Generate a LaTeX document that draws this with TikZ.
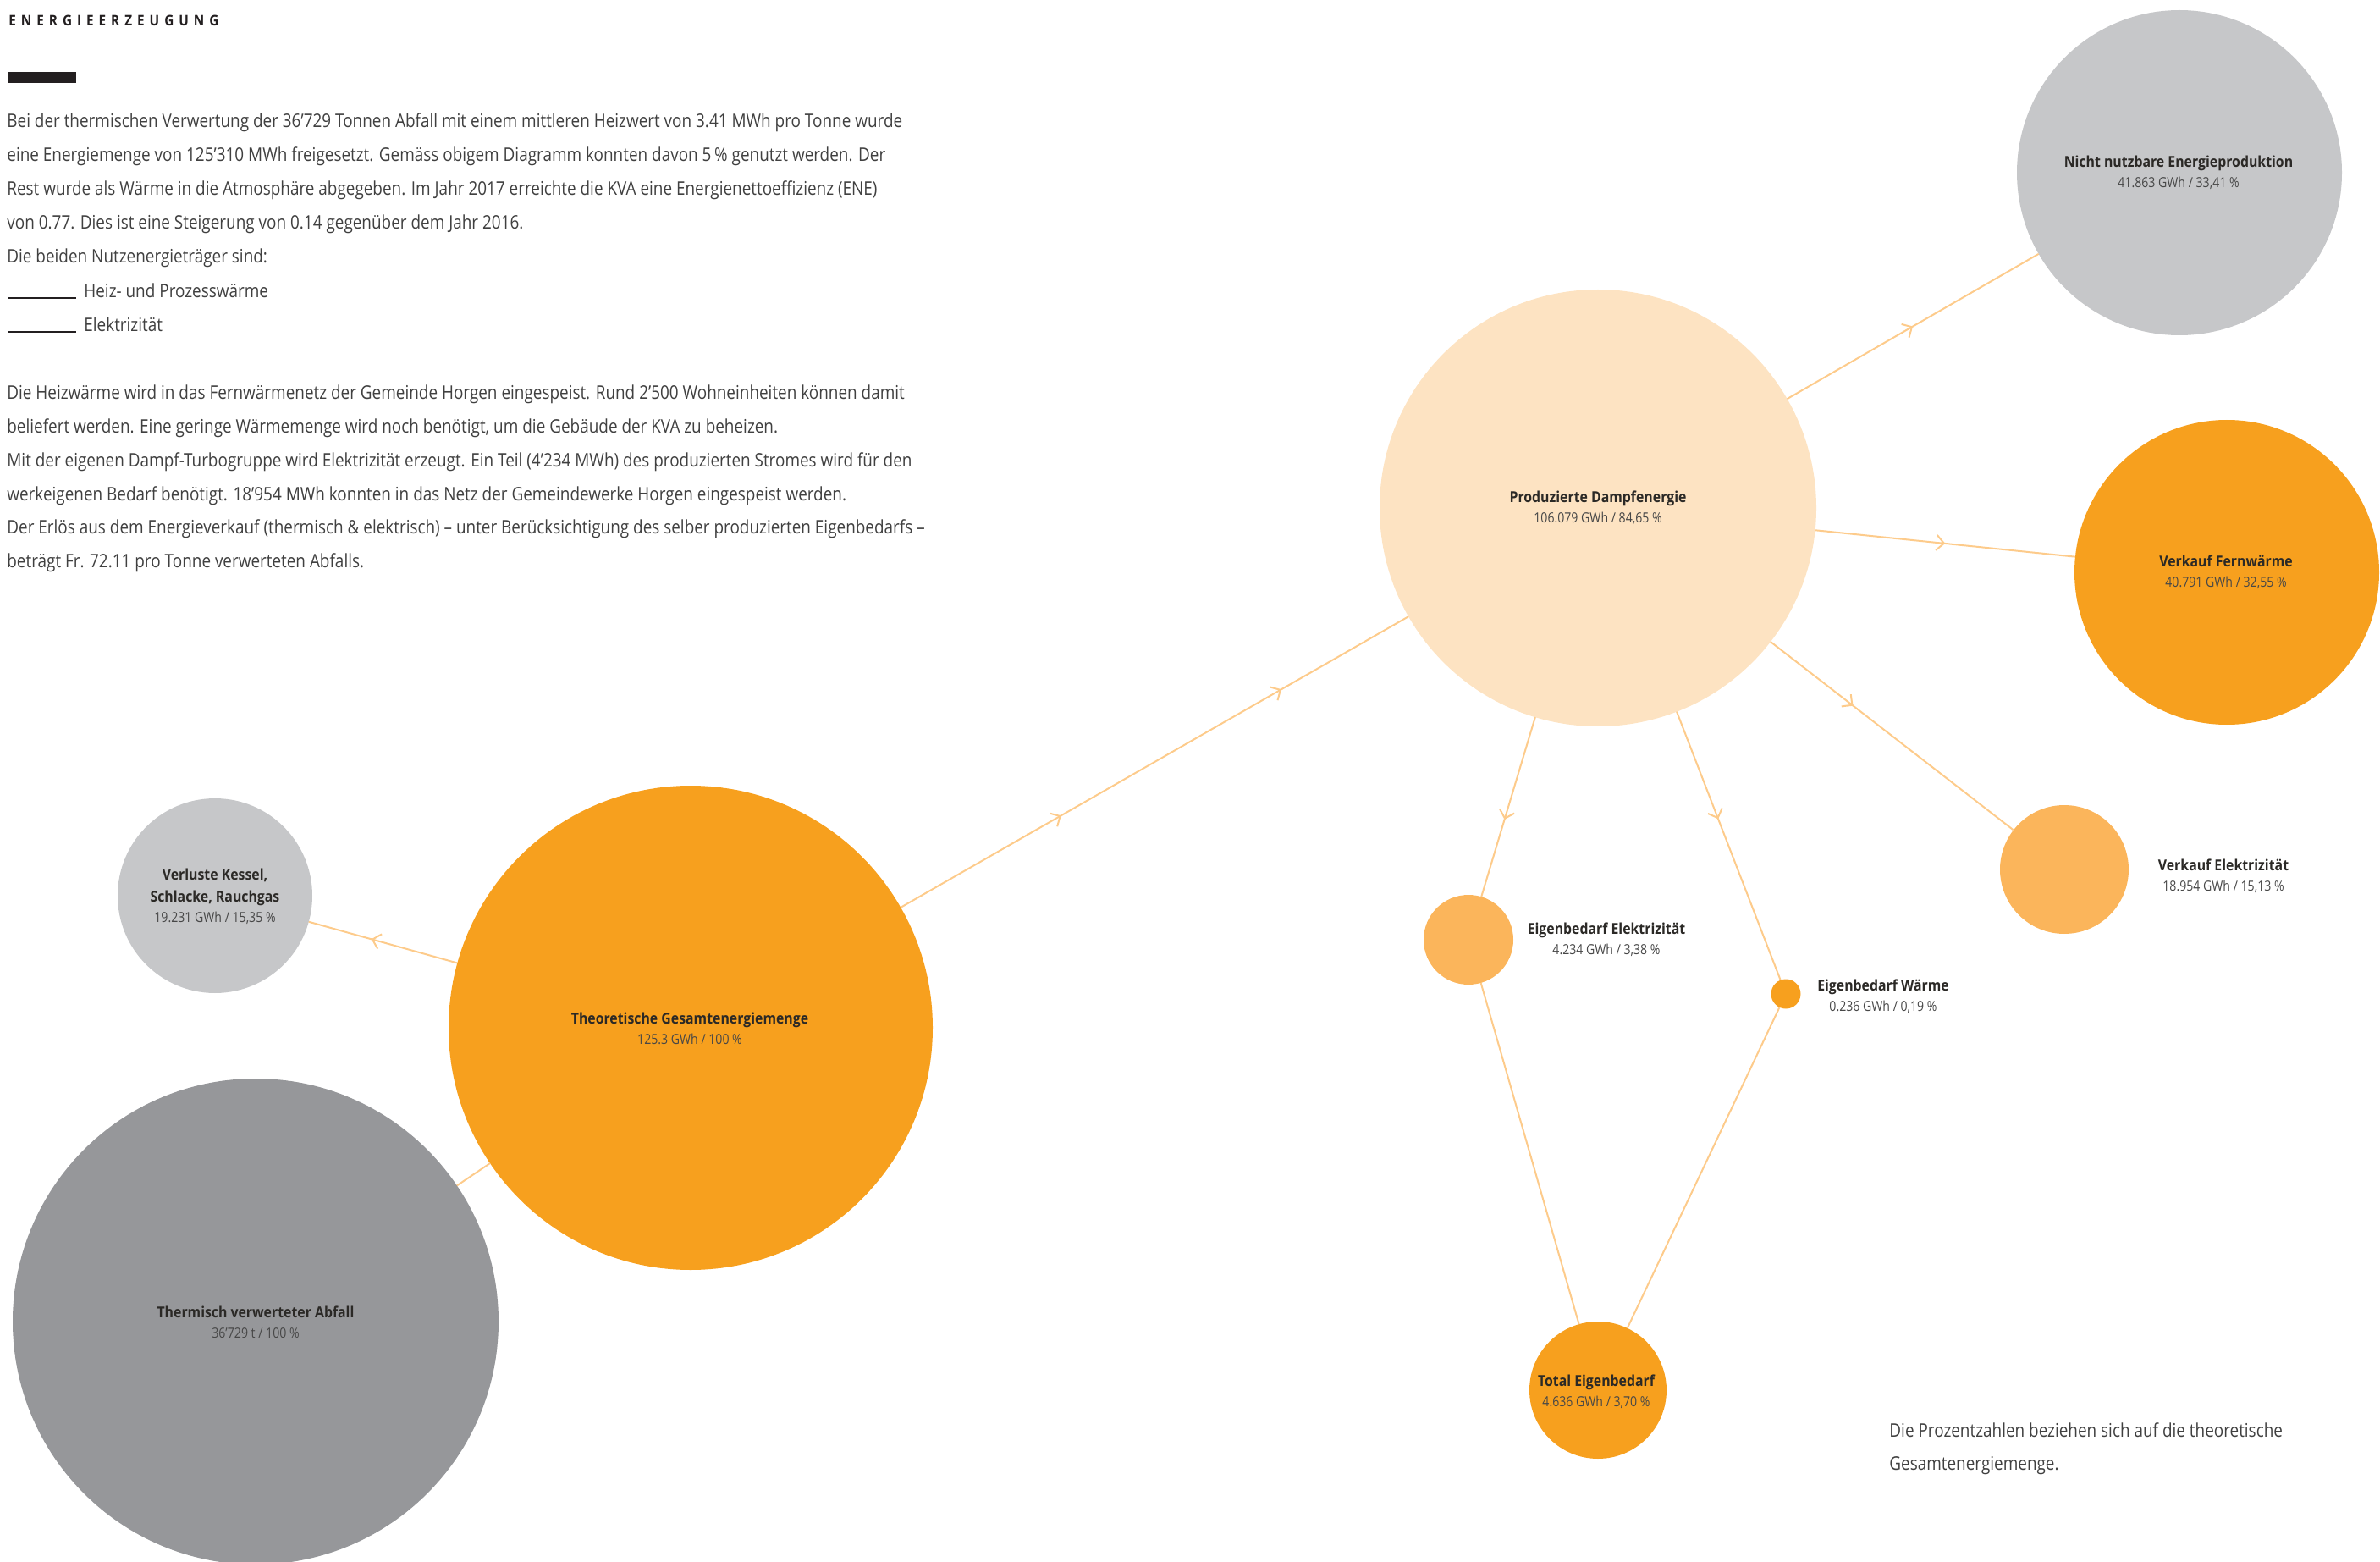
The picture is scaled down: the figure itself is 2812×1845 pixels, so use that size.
\documentclass[tikz,border=0pt]{standalone}
\usepackage{fontspec}
\setmainfont{Open Sans}
\newfontfamily\bodyfont{Open Sans}[FakeStretch=0.86]
\newfontfamily\labfont{Open Sans}[FakeStretch=0.89]
\usetikzlibrary{arrows.meta,decorations.markings}
\definecolor{orangeA}{HTML}{F7A01E}
\definecolor{orangeB}{HTML}{FBB55B}
\definecolor{orangeP}{HTML}{FDE3C2}
\definecolor{grayL}{HTML}{C6C7C9}
\definecolor{grayM}{HTML}{96979A}
\definecolor{flowc}{HTML}{FDCB8B}
\definecolor{bodyc}{HTML}{404040}
\definecolor{headc}{HTML}{2B2926}
\definecolor{valc}{HTML}{474747}
\definecolor{barc}{HTML}{231F20}
\newcommand\flowarrow{\arrow[color=flowc,line width=1pt]{Straight Barb[length=4.5pt,width=9pt]}}
\begin{document}
\begin{tikzpicture}[x=0.5pt,y=-0.5pt,
  bubble/.style={circle,draw=none,inner sep=0pt,outer sep=0pt},
  flow/.style={draw=flowc,line width=1pt},
  arrowat/.style={postaction={decorate},decoration={markings,mark=at position #1 with {\flowarrow}}},
  twoarrows/.style 2 args={postaction={decorate},decoration={markings,mark=at position #1 with {\flowarrow},mark=at position #2 with {\flowarrow}}},
  txt/.style={inner sep=0pt,anchor=base west,text=bodyc,font=\bodyfont\fontsize{11pt}{13pt}\selectfont},
  head/.style={inner sep=0pt,anchor=base,text=headc,font=\labfont\bfseries\fontsize{8.9pt}{10pt}\selectfont},
  val/.style={inner sep=0pt,anchor=base,text=valc,font=\bodyfont\fontsize{8.2pt}{10pt}\selectfont}]
\useasboundingbox (0,0) rectangle (2812,1845);

% ---------- left text column ----------
\node[inner sep=0pt,anchor=base west,text=barc,font=\labfont\bfseries\fontsize{8.6pt}{10pt}\selectfont] (title) at (10,31)
  {\makebox[124pt][s]{E\hfill N\hfill E\hfill R\hfill G\hfill I\hfill E\hfill E\hfill R\hfill Z\hfill E\hfill U\hfill G\hfill U\hfill N\hfill G}};
\fill[barc] (9,85) rectangle (90,98);

\node[txt] (p1) at (8,151) {Bei der thermischen Verwertung der 36’729 Tonnen Abfall mit einem mittleren Heizwert von 3.41 MWh pro Tonne wurde};
\node[txt] (p2) at (8,191) {eine Energiemenge von 125’310 MWh freigesetzt. Gemäss obigem Diagramm konnten davon 5\,\% genutzt werden. Der};
\node[txt] (p3) at (8,231) {Rest wurde als Wärme in die Atmosphäre abgegeben. Im Jahr 2017 erreichte die KVA eine Energienettoeffizienz (ENE)};
\node[txt] (p4) at (8,271) {von 0.77. Dies ist eine Steigerung von 0.14 gegenüber dem Jahr 2016.};
\node[txt] (p5) at (8,311) {Die beiden Nutzenergieträger sind:};
\draw[barc,line width=0.7pt] (9,352) -- (90,352);
\node[txt] (p6) at (99,352) {Heiz- und Prozesswärme};
\draw[barc,line width=0.7pt] (9,392) -- (90,392);
\node[txt] (p7) at (99,392) {Elektrizität};

\node[txt] (q1) at (8,472) {Die Heizwärme wird in das Fernwärmenetz der Gemeinde Horgen eingespeist. Rund 2’500 Wohneinheiten können damit};
\node[txt] (q2) at (8,512) {beliefert werden. Eine geringe Wärmemenge wird noch benötigt, um die Gebäude der KVA zu beheizen.};
\node[txt] (q3) at (8,552) {Mit der eigenen Dampf-Turbogruppe wird Elektrizität erzeugt. Ein Teil (4’234 MWh) des produzierten Stromes wird für den};
\node[txt] (q4) at (8,592) {werkeigenen Bedarf benötigt. 18’954 MWh konnten in das Netz der Gemeindewerke Horgen eingespeist werden.};
\node[txt] (q5) at (8,631) {Der Erlös aus dem Energieverkauf (thermisch \& elektrisch) – unter Berücksichtigung des selber produzierten Eigenbedarfs –};
\node[txt] (q6) at (8,671) {beträgt Fr. 72.11 pro Tonne verwerteten Abfalls.};

% ---------- circles ----------
\node[bubble,fill=grayM,minimum size=287pt] (therm) at (302,1561) {};
\node[bubble,fill=orangeA,minimum size=286pt] (theor) at (816,1214) {};
\node[bubble,fill=grayL,minimum size=115pt] (verl) at (254,1058) {};
\node[bubble,fill=orangeP,minimum size=258pt] (prod) at (1888,600) {};
\node[bubble,fill=grayL,minimum size=192pt] (nicht) at (2575,204) {};
\node[bubble,fill=orangeA,minimum size=180pt] (fern) at (2631,676) {};
\node[bubble,fill=orangeB,minimum size=76pt] (velek) at (2439,1027) {};
\node[bubble,fill=orangeB,minimum size=53pt] (eelek) at (1735,1110) {};
\node[bubble,fill=orangeA,minimum size=17.5pt] (ewaerme) at (2110,1174) {};
\node[bubble,fill=orangeA,minimum size=81pt] (total) at (1888,1642) {};

% ---------- connectors ----------
\draw[flow] (therm) -- (theor);
\draw[flow,arrowat=0.58] (theor) -- (verl);
\draw[flow,twoarrows={0.316}{0.75}] (theor) -- (prod);
\draw[flow,arrowat=0.5] (prod) -- (nicht);
\draw[flow,arrowat=0.5] (prod) -- (fern);
\draw[flow,arrowat=0.34] (prod) -- (velek);
\draw[flow,arrowat=0.57] (prod) -- (eelek);
\draw[flow,arrowat=0.4] (prod) -- (ewaerme);
\draw[flow] (eelek) -- (total);
\draw[flow] (ewaerme) -- (total);

% ---------- labels ----------
\node[head] (theorH) at (815,1209) {Theoretische Gesamtenergiemenge};
\node[val] (theorV) at (815,1233) {125.3 GWh / 100 \%};
\node[head] (thermH) at (302,1556) {Thermisch verwerteter Abfall};
\node[val] (thermV) at (302,1580) {36’729 t / 100 \%};
\node[head] (verlH1) at (254,1039) {Verluste Kessel,};
\node[head] (verlH2) at (254,1065) {Schlacke, Rauchgas};
\node[val] (verlV) at (254,1089) {19.231 GWh / 15,35 \%};
\node[head] (prodH) at (1888,594) {Produzierte Dampfenergie};
\node[val] (prodV) at (1888,618) {106.079 GWh / 84,65 \%};
\node[head] (nichtH) at (2574,198) {Nicht nutzbare Energieproduktion};
\node[val] (nichtV) at (2574,222) {41.863 GWh / 33,41 \%};
\node[head] (fernH) at (2630,670) {Verkauf Fernwärme};
\node[val] (fernV) at (2630,694) {40.791 GWh / 32,55 \%};
\node[head] (velekH) at (2627,1028) {Verkauf Elektrizität};
\node[val] (velekV) at (2627,1052) {18.954 GWh / 15,13 \%};
\node[head] (eelekH) at (1898,1103) {Eigenbedarf Elektrizität};
\node[val] (eelekV) at (1898,1127) {4.234 GWh / 3,38 \%};
\node[head] (ewaermeH) at (2225,1170) {Eigenbedarf Wärme};
\node[val] (ewaermeV) at (2225,1194) {0.236 GWh / 0,19 \%};
\node[head] (totalH) at (1886,1637) {Total Eigenbedarf};
\node[val] (totalV) at (1886,1661) {4.636 GWh / 3,70 \%};

% ---------- footnote ----------
\node[txt] (n1) at (2232,1697) {Die Prozentzahlen beziehen sich auf die theoretische};
\node[txt] (n2) at (2232,1736) {Gesamtenergiemenge.};
\end{tikzpicture}
\end{document}
